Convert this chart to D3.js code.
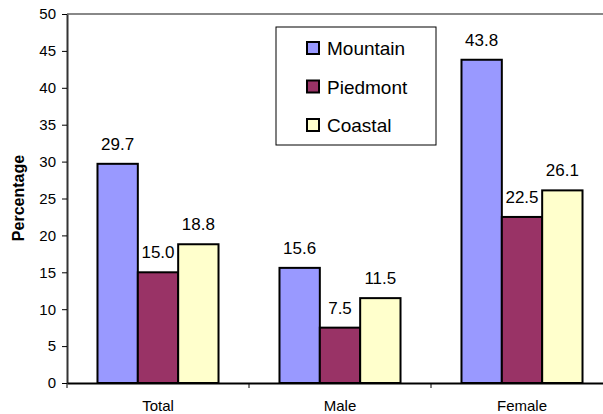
<!DOCTYPE html>
<html>
<head>
<meta charset="utf-8">
<script src="https://cdn.jsdelivr.net/npm/d3@7"></script>
<style>
  body { margin: 0; background: #fff; }
  text { font-family: "Liberation Sans", Arial, sans-serif; fill: #000; }
</style>
</head>
<body>
<div id="chart"></div>
<script>
// chart data
let categories = ['Total', 'Male', 'Female'];
let regions = ['Mountain', 'Piedmont', 'Coastal'];
let mountain = [29.7, 15.6, 43.8];
let piedmont = [15.0, 7.5, 22.5];
let coastal = [18.8, 11.5, 26.1];
let yTicks = [0, 5, 10, 15, 20, 25, 30, 35, 40, 45, 50];

let colors = ['#9999ff', '#993366', '#ffffcc'];
let seriesValues = [mountain, piedmont, coastal];

let svgWidth = 603;
let svgHeight = 414;
let margin = { top: 14, left: 67, right: -10, bottom: 31 };
let width = svgWidth - margin.left - margin.right;
let height = svgHeight - margin.top - margin.bottom;

let svg = d3.select('#chart')
    .append('svg')
    .attr('width', svgWidth)
    .attr('height', svgHeight);

let chartGroup = svg.append('g')
    .attr('transform', `translate(${margin.left}, ${margin.top})`);

// scales
let xScale = d3.scaleBand()
    .domain(categories)
    .range([0, width])
    .padding(0);
let xInner = d3.scaleBand()
    .domain(regions)
    .range([0, xScale.bandwidth() * 0.665])
    .padding(0);
let yScale = d3.scaleLinear()
    .domain([0, 50])
    .range([height, 0]);

// top frame line
chartGroup.append('line')
    .attr('x1', 0).attr('x2', width)
    .attr('y1', 0).attr('y2', 0)
    .attr('stroke', '#888')
    .attr('stroke-width', 2);

// bars
let groupOffset = (xScale.bandwidth() - xInner.range()[1]) / 2;
let rows = [];
categories.forEach((c, i) => {
    regions.forEach((r, j) => {
        rows.push({ cat: c, region: r, value: seriesValues[j][i], color: colors[j] });
    });
});

let bars = chartGroup.selectAll('.bar')
    .data(rows)
    .enter()
    .append('g')
    .classed('bar', true);

bars.append('rect')
    .attr('x', d => xScale(d.cat) + groupOffset + xInner(d.region))
    .attr('y', d => yScale(d.value))
    .attr('width', xInner.bandwidth())
    .attr('height', d => height - yScale(d.value))
    .attr('fill', d => d.color)
    .attr('stroke', '#000')
    .attr('stroke-width', 2);

bars.append('text')
    .attr('x', d => xScale(d.cat) + groupOffset + xInner(d.region) + xInner.bandwidth() / 2)
    .attr('y', d => yScale(d.value) - 14)
    .attr('text-anchor', 'middle')
    .style('font-size', '17px')
    .text(d => d.value.toFixed(1));

// axes
let leftAxis = d3.axisLeft(yScale)
    .tickValues(yTicks)
    .tickSize(5)
    .tickSizeOuter(0)
    .tickPadding(6);
let yAxisGroup = chartGroup.append('g').call(leftAxis);
yAxisGroup.select('.domain').attr('stroke', '#333').attr('stroke-width', 2);
yAxisGroup.selectAll('.tick line').attr('stroke', '#000');
yAxisGroup.selectAll('text').style('font-size', '15px').style('font-family', '"Liberation Sans", Arial, sans-serif');

let bottomAxis = d3.axisBottom(xScale)
    .tickSize(0)
    .tickPadding(17);
let xAxisGroup = chartGroup.append('g')
    .attr('transform', `translate(0, ${height})`)
    .call(bottomAxis);
xAxisGroup.select('.domain').attr('stroke', '#000').attr('stroke-width', 2);
xAxisGroup.selectAll('text').style('font-size', '15px').style('font-family', '"Liberation Sans", Arial, sans-serif');

// category separator ticks
chartGroup.selectAll('.sep')
    .data(categories)
    .enter()
    .append('line')
    .attr('x1', d => xScale(d))
    .attr('x2', d => xScale(d))
    .attr('y1', height)
    .attr('y2', height + 5)
    .attr('stroke', '#000');

// y label
svg.append('text')
    .attr('transform', `translate(24, 198) rotate(-90)`)
    .attr('text-anchor', 'middle')
    .style('font-size', '16px')
    .style('font-weight', 'bold')
    .text('Percentage');

// legend
let legend = svg.append('g')
    .attr('transform', 'translate(276, 27)');
legend.append('rect')
    .attr('width', 160)
    .attr('height', 118)
    .attr('fill', '#fff')
    .attr('stroke', '#000')
    .attr('stroke-width', 1);
let legendRows = legend.selectAll('.lrow')
    .data(regions)
    .enter()
    .append('g')
    .attr('transform', (d, i) => `translate(31, ${21 + i * 38.5})`);
legendRows.append('rect')
    .attr('x', 0)
    .attr('y', -6)
    .attr('width', 12)
    .attr('height', 12)
    .attr('fill', (d, i) => colors[i])
    .attr('stroke', '#000')
    .attr('stroke-width', 2);
legendRows.append('text')
    .attr('x', 20)
    .attr('y', 7)
    .style('font-size', '19px')
    .text(d => d);
</script>
</body>
</html>
